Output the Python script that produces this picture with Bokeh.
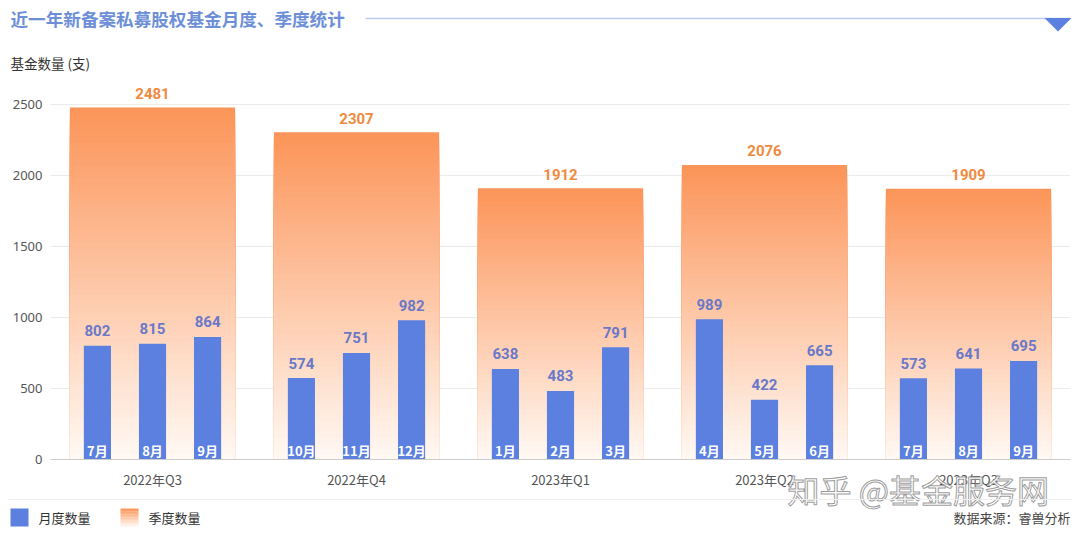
from bokeh.plotting import figure
from bokeh.layouts import column
from bokeh.models import Range1d, FixedTicker, ColumnDataSource
from bokeh.core.properties import value
from bokeh.embed import file_html
from bokeh.resources import INLINE

# ---------------- data ----------------
quarters = ["2022年Q3", "2022年Q4", "2023年Q1", "2023年Q2", "2023年Q3"]
quarter_totals = [2481, 2307, 1912, 2076, 1909]
months = ["7月", "8月", "9月", "10月", "11月", "12月", "1月", "2月", "3月",
          "4月", "5月", "6月", "7月", "8月", "9月"]
monthly = [802, 815, 864, 574, 751, 982, 638, 483, 791, 989, 422, 665, 573, 641, 695]
y_ticks = [0, 500, 1000, 1500, 2000, 2500]

# ---------------- layout constants ----------------
W = 1080
TOP_H = 80          # header strip: 0..80
MAIN_H = 417        # main chart: 80..497
OVERLAP = 35
BOT_H = 38 + OVERLAP  # footer strip: 462..535 (overlaps bottom of main, transparent)
FL, FR = 50, 1070   # frame left/right
FB_LOCAL = 379      # frame bottom inside main figure (pixel 459 on page)
PX_PER_UNIT = 354.7 / 2500
Y_END = FB_LOCAL / PX_PER_UNIT
NQ = len(quarters)

CJK = "Noto Sans CJK SC"
NUM = "Roboto"
BLUE = "#5b80e0"
ORANGE_TOP = (252, 148, 88)
ORANGE_BOT = (255, 249, 244)


def mix(t):
    r = [round(a + (b - a) * t) for a, b in zip(ORANGE_TOP, ORANGE_BOT)]
    return "#%02x%02x%02x" % tuple(r)


def strip(height, y0, transparent=False, **kw):
    f = figure(width=W, height=height, x_range=Range1d(0, W), y_range=Range1d(y0 + height, y0),
               output_backend="svg", toolbar_location=None, x_axis_type=None, y_axis_type=None,
               min_border=0, frame_align=False, **kw)
    f.outline_line_color = None
    f.grid.visible = False
    f.title.visible = False
    if transparent:
        f.background_fill_color = None
        f.border_fill_color = None
    else:
        f.background_fill_color = "white"
        f.border_fill_color = "white"
    return f


# ---------------- header ----------------
top = strip(TOP_H, 0)
top.text(x=[10], y=[18], text=["近一年新备案私募股权基金月度、季度统计"], text_baseline="middle",
         text_font=value(CJK), text_font_size="17.6px", text_font_style="bold",
         text_color="#6d8fd8")
top.segment(x0=[365], y0=[18], x1=[1070], y1=[18], line_color="#bccbee", line_width=1.5)
top.patch(x=[1044, 1071, 1057.5], y=[17.5, 17.5, 31], fill_color=BLUE, line_color=None)
top.text(x=[10], y=[62], text=["基金数量 (支)"], text_baseline="middle",
         text_font=value(CJK), text_font_size="13.5px", text_color="#333333")

# ---------------- main chart ----------------
p = figure(width=W, height=MAIN_H, x_range=Range1d(-0.5, NQ - 0.5), y_range=Range1d(0, Y_END),
           output_backend="svg", toolbar_location=None, frame_align=False,
           min_border_left=FL, min_border_right=W - FR, min_border_top=0,
           min_border_bottom=MAIN_H - FB_LOCAL)
p.title.visible = False
p.outline_line_color = None
p.background_fill_color = "white"
p.border_fill_color = "white"

p.yaxis.ticker = FixedTicker(ticks=y_ticks)
p.ygrid.ticker = FixedTicker(ticks=y_ticks)
p.ygrid.grid_line_color = "#ebebeb"
p.xgrid.visible = False
p.yaxis.axis_line_color = None
p.yaxis.major_tick_line_color = None
p.yaxis.minor_tick_line_color = None
p.yaxis.major_tick_out = 0
p.yaxis.major_tick_in = 0
p.yaxis.major_label_text_font = "Noto Sans"
p.yaxis.major_label_text_font_size = "13px"
p.yaxis.major_label_text_color = "#555555"
p.yaxis.major_label_standoff = 8

p.xaxis.ticker = FixedTicker(ticks=list(range(NQ)))
p.xaxis.major_label_overrides = {i: q for i, q in enumerate(quarters)}
p.xaxis.axis_line_color = "#cccccc"
p.xaxis.major_tick_line_color = None
p.xaxis.minor_tick_line_color = None
p.xaxis.major_tick_out = 0
p.xaxis.major_tick_in = 0
p.xaxis.major_label_text_font = CJK
p.xaxis.major_label_text_font_size = "13px"
p.xaxis.major_label_text_color = "#555555"
p.xaxis.major_label_standoff = 10

# quarter bars with vertical gradient (nested slices)
N = 60
QW = 0.81
ql, qr, qt, qc = [], [], [], []
for i, v in enumerate(quarter_totals):
    for k in range(N):
        ql.append(i - QW / 2)
        qr.append(i + QW / 2)
        qt.append(v * (1 - k / N))
        qc.append(mix((k + 0.5) / N))
p.quad(left="l", right="r", top="t", bottom=0, fill_color="c", line_color=None,
       source=ColumnDataSource(dict(l=ql, r=qr, t=qt, c=qc)))

# monthly bars
MW = 0.133
OFF = 0.27
mx = [i + j * OFF for i in range(NQ) for j in (-1, 0, 1)]
p.vbar(x=mx, top=monthly, width=MW, bottom=0, fill_color=BLUE, line_color=None)

p.text(x=mx, y=monthly, text=[str(v) for v in monthly], text_align="center",
       text_baseline="middle", y_offset=-15, text_font=value(NUM),
       text_font_size="15px", text_font_style="bold", text_color="#6a78c8")
p.text(x=mx, y=[0] * len(mx), text=months, text_align="center",
       text_baseline="middle", y_offset=-9, text_font=value(CJK),
       text_font_size="13px", text_font_style="bold", text_color="white")
p.text(x=list(range(NQ)), y=quarter_totals, text=[str(v) for v in quarter_totals],
       text_align="center", text_baseline="middle", y_offset=-14,
       text_font=value(NUM), text_font_size="15px", text_font_style="bold",
       text_color="#f08a40")

# ---------------- footer (transparent, overlapping the axis-label area) ----------------
y0_bot = TOP_H + MAIN_H - OVERLAP
bot = strip(BOT_H, y0_bot, transparent=True, margin=(-OVERLAP, 0, 0, 0))
bot.text(x=[787], y=[488], text=["知乎 @基金服务网"], text_baseline="middle",
         text_font=value(CJK), text_font_size="32px", text_color="#ffffff",
         text_alpha=0.85, text_outline_color="#8a8a8a")
bot.segment(x0=[8], y0=[499], x1=[1072], y1=[499], line_color="#eeeeee", line_width=1.2)
bot.quad(left=[10], right=[28], top=[508], bottom=[526], fill_color=BLUE, line_color=None)
NS = 12
bot.quad(left=[120] * NS, right=[138] * NS,
         top=[508 + 18 * k / NS for k in range(NS)],
         bottom=[508 + 18 * (k + 1) / NS + 0.3 for k in range(NS)],
         fill_color=[mix((k + 0.5) / NS) for k in range(NS)], line_color=None)
bot.text(x=[38, 148], y=[517, 517], text=["月度数量", "季度数量"], text_baseline="middle",
         text_font=value(CJK), text_font_size="13px", text_color="#333333")
bot.text(x=[1070], y=[517], text=["数据来源：睿兽分析"], text_baseline="middle",
         text_align="right", text_font=value(CJK), text_font_size="13px",
         text_color="#444444")

layout = column(top, p, bot, spacing=0)
open("out.html", "w").write(file_html(layout, INLINE))
